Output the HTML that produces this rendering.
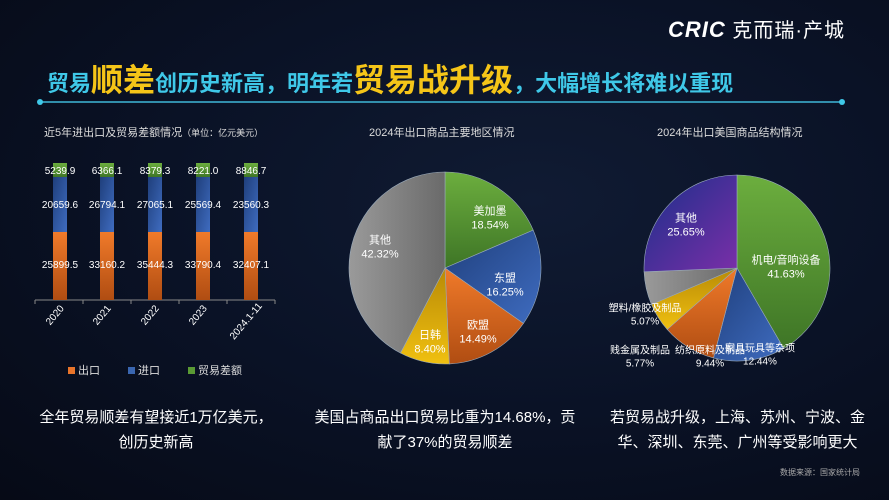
<!DOCTYPE html>
<html><head><meta charset="utf-8"><style>
body{margin:0;width:889px;height:500px;overflow:hidden;background:radial-gradient(ellipse at 60% 40%,#101b33 0%,#0a1226 50%,#060a16 100%);font-family:"Liberation Sans","Noto Sans CJK SC",sans-serif;color:#fff;position:relative}
.t{position:absolute;white-space:nowrap}
</style></head><body>
<svg width="889" height="500" style="position:absolute;left:0;top:0" id="s">
<defs>
<linearGradient id="gGreen" x1="0" y1="0" x2="0" y2="1"><stop offset="0" stop-color="#6cae3e"/><stop offset="1" stop-color="#3e7526"/></linearGradient>
<linearGradient id="gBlue" x1="0" y1="0" x2="1" y2="1"><stop offset="0" stop-color="#1f3f7c"/><stop offset="1" stop-color="#3f6cc0"/></linearGradient>
<linearGradient id="gOr" x1="0" y1="0" x2="0" y2="1"><stop offset="0" stop-color="#f07a2a"/><stop offset="1" stop-color="#b04d12"/></linearGradient>
<linearGradient id="gY" x1="0" y1="0" x2="0" y2="1"><stop offset="0" stop-color="#b88a06"/><stop offset="1" stop-color="#f0c010"/></linearGradient>
<linearGradient id="gGr" x1="0" y1="0" x2="1" y2="0"><stop offset="0" stop-color="#9a9a9a"/><stop offset="1" stop-color="#6a6a6a"/></linearGradient>
<linearGradient id="gP" x1="0" y1="0" x2="1" y2="1"><stop offset="0" stop-color="#1a2f8a"/><stop offset="1" stop-color="#7a2fa8"/></linearGradient>
</defs>
<line x1="40" y1="102" x2="842" y2="102" stroke="#3fb8d8" stroke-width="1.5"/>
<circle cx="40" cy="102" r="3" fill="#3fc8e8"/><circle cx="842" cy="102" r="3" fill="#3fc8e8"/>
<line x1="35" y1="300" x2="275" y2="300" stroke="#888" stroke-width="1"/>
<g id="bars"></g>
<g id="p1"></g><g id="p2"></g>
</svg>
<div class="t" style="left:668px;top:14px;font-size:22px;font-weight:bold;font-style:italic;letter-spacing:1px">CRIC<span style="font-style:normal;font-size:20px;font-weight:normal"> 克而瑞·产城</span></div>
<div class="t" style="left:47px;top:55px;font-size:22px;color:#3fc8e8;font-weight:bold">贸易<span style="color:#f5c518;font-size:32px">顺差</span>创历史新高，明年若<span style="color:#f5c518;font-size:32px">贸易战升级</span>，大幅增长将难以重现</div>
<div class="t" style="left:44px;top:124px;font-size:11px;color:#ddd">近5年进出口及贸易差额情况<span style="font-size:9px">（单位：亿元美元）</span></div>
<div class="t" style="left:369px;top:124px;font-size:11px;color:#ddd">2024年出口商品主要地区情况</div>
<div class="t" style="left:657px;top:124px;font-size:11px;color:#ddd">2024年出口美国商品结构情况</div>
<div id="lbl"></div>
<div class="t" style="left:68px;top:362px;font-size:11px;color:#ddd"><span style="display:inline-block;width:7px;height:7px;background:#e8742a;margin-right:3px"></span>出口</div>
<div class="t" style="left:128px;top:362px;font-size:11px;color:#ddd"><span style="display:inline-block;width:7px;height:7px;background:#3a66b0;margin-right:3px"></span>进口</div>
<div class="t" style="left:188px;top:362px;font-size:11px;color:#ddd"><span style="display:inline-block;width:7px;height:7px;background:#5a9a34;margin-right:3px"></span>贸易差额</div>
<div class="t" style="left:25px;top:405px;width:262px;text-align:center;font-size:15px;line-height:25px">全年贸易顺差有望接近1万亿美元，<br>创历史新高</div>
<div class="t" style="left:310px;top:405px;width:270px;text-align:center;font-size:15px;line-height:25px;white-space:normal">美国占商品出口贸易比重为14.68%，贡献了37%的贸易顺差</div>
<div class="t" style="left:605px;top:405px;width:265px;text-align:center;font-size:15px;line-height:25px;white-space:normal">若贸易战升级，上海、苏州、宁波、金华、深圳、东莞、广州等受影响更大</div>
<div class="t" style="left:780px;top:467px;font-size:8px;color:#aaa">数据来源：国家统计局</div>
<script>
var NS="http://www.w3.org/2000/svg";
function el(p,t,a){var e=document.createElementNS(NS,t);for(var k in a)e.setAttribute(k,a[k]);p.appendChild(e);return e;}
var L=document.getElementById('lbl');
function lab(x,y,s,fs,c,extra){var d=document.createElement('div');d.className='t';d.style.cssText='left:'+x+'px;top:'+y+'px;font-size:'+(fs||10)+'px;color:'+(c||'#fff')+';transform:translate(-50%,-50%);text-align:center;line-height:1.25;'+(extra||'');d.innerHTML=s;L.appendChild(d);}
var b=document.getElementById('bars');
var cx=[60,107,155,203,251],g=['5239.9','6366.1','8379.3','8221.0','8846.7'],im=['20659.6','26794.1','27065.1','25569.4','23560.3'],ex=['25899.5','33160.2','35444.3','33790.4','32407.1'],yr=['2020','2021','2022','2023','2024.1-11'];
for(var i=0;i<5;i++){var x=cx[i]-7;
el(b,'rect',{x:x,y:163,width:14,height:14,fill:'url(#gGreen)'});
el(b,'rect',{x:x,y:177,width:14,height:55,fill:'url(#gBlue)'});
el(b,'rect',{x:x,y:232,width:14,height:68,fill:'url(#gOr)'});
lab(cx[i],172,g[i]);lab(cx[i],206,im[i]);lab(cx[i],266,ex[i]);
lab(cx[i]-4,i==4?322:316,yr[i],10,'#fff','transform:translate(-50%,-50%) rotate(-50deg);');}
for(var i=0;i<6;i++)el(b,'line',{x1:35+i*48,y1:300,x2:35+i*48,y2:304,stroke:'#888'});
function pie(g,cx,cy,r,data){var a=0;data.forEach(function(d){var a2=a+d[0]/100*2*Math.PI;
var x1=cx+r*Math.sin(a),y1=cy-r*Math.cos(a),x2=cx+r*Math.sin(a2),y2=cy-r*Math.cos(a2);
el(g,'path',{d:'M'+cx+','+cy+'L'+x1+','+y1+'A'+r+','+r+' 0 '+((a2-a)>Math.PI?1:0)+' 1 '+x2+','+y2+'Z',fill:d[1],stroke:'#9ab',"stroke-width":0.6});a=a2;});}
pie(document.getElementById('p1'),445,268,96,[[18.54,'url(#gGreen)'],[16.25,'url(#gBlue)'],[14.49,'url(#gOr)'],[8.40,'url(#gY)'],[42.32,'url(#gGr)']]);
pie(document.getElementById('p2'),737,268,93,[[41.63,'url(#gGreen)'],[12.44,'url(#gBlue)'],[9.44,'url(#gOr)'],[5.07,'url(#gY)'],[5.77,'url(#gGr)'],[25.65,'url(#gP)']]);
lab(490,219,'美加墨<br>18.54%',11);lab(505,286,'东盟<br>16.25%',11);lab(478,333,'欧盟<br>14.49%',11);lab(430,343,'日韩<br>8.40%',11);lab(380,248,'其他<br>42.32%',11);
lab(786,268,'机电/音响设备<br>41.63%',11);lab(686,226,'其他<br>25.65%',11);lab(645,316,'塑料/橡胶及制品<br>5.07%',10);lab(640,358,'贱金属及制品<br>5.77%',10);lab(710,358,'纺织原料及制品<br>9.44%',10);lab(760,356,'家具玩具等杂项<br>12.44%',10);
</script>
</body></html>
